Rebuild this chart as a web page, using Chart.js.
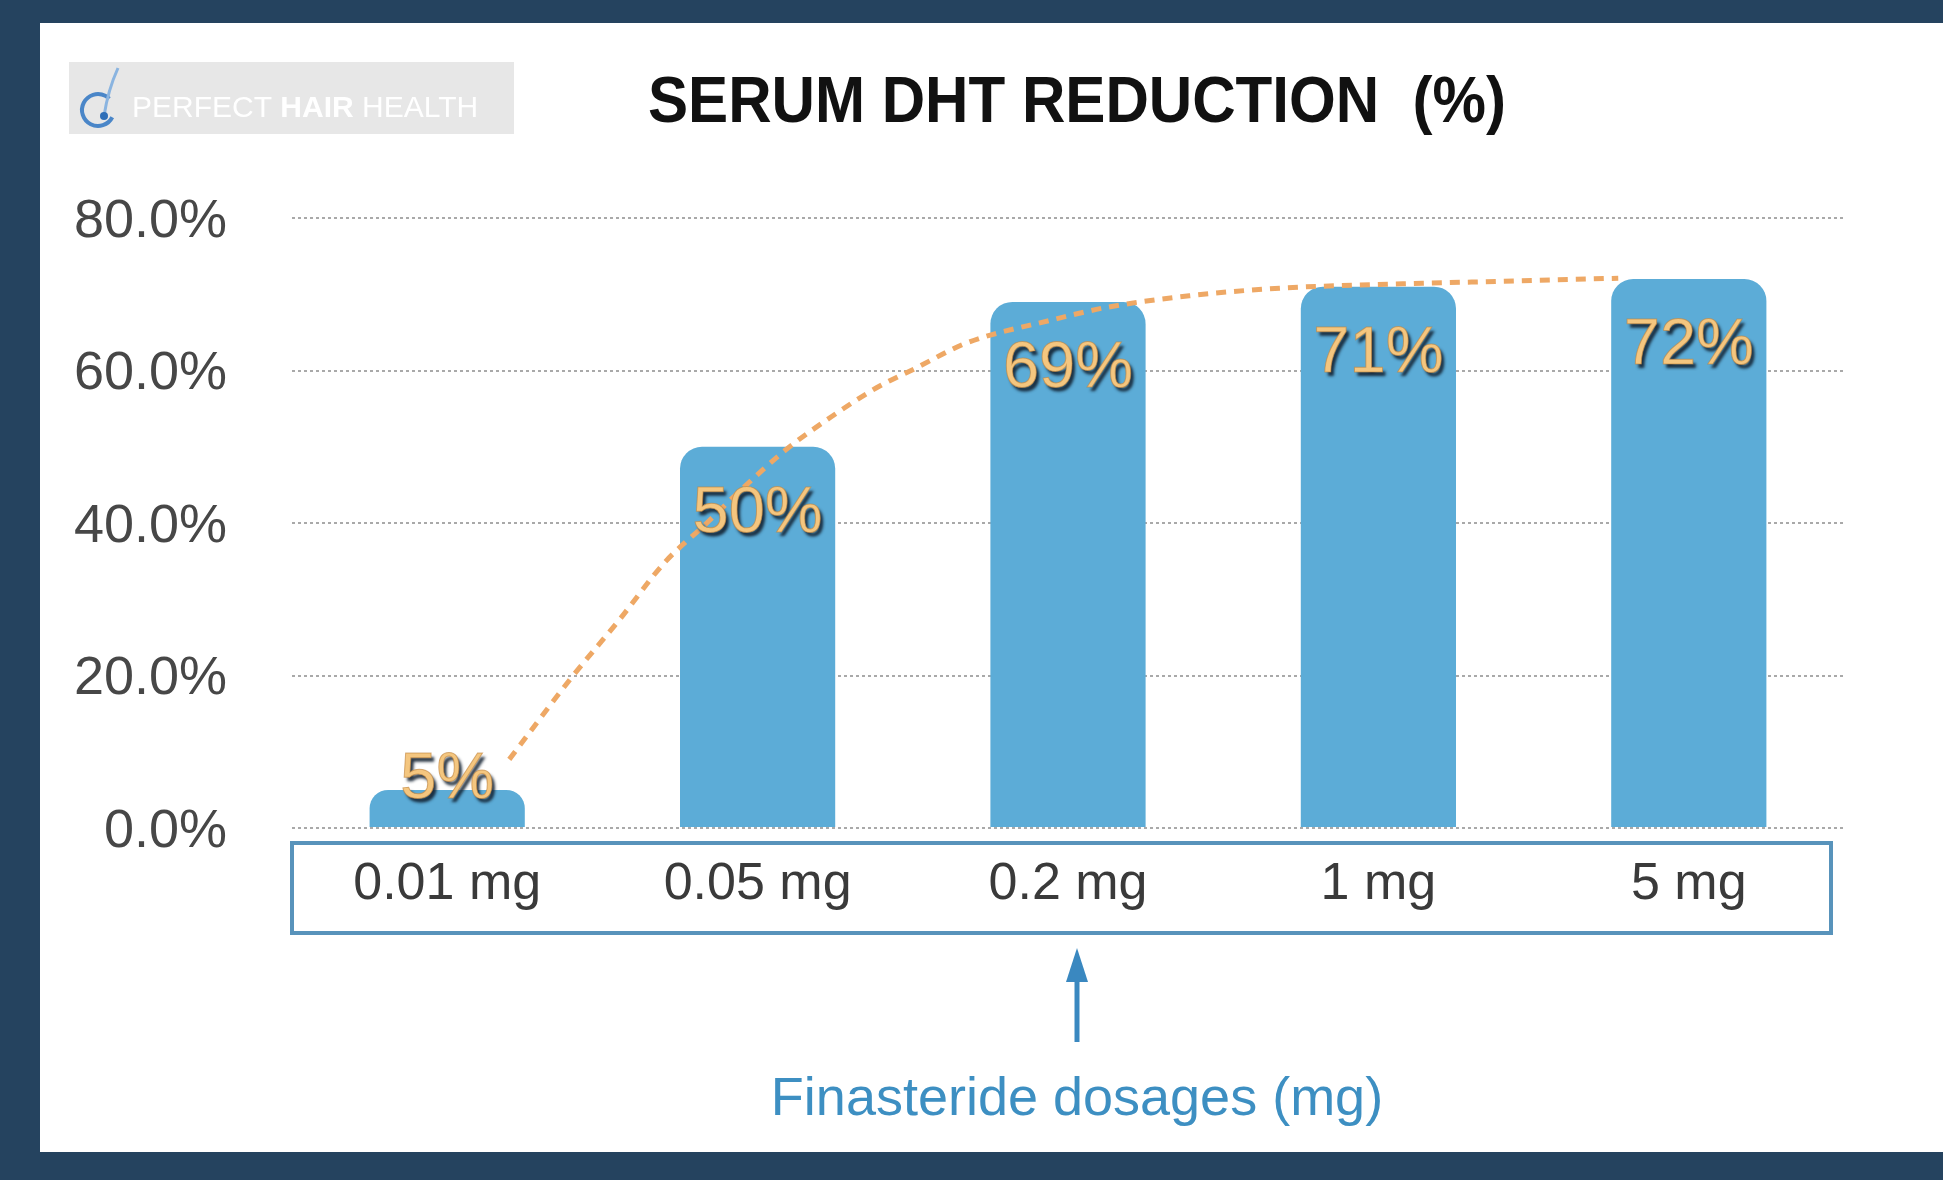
<!DOCTYPE html>
<html>
<head>
<meta charset="utf-8">
<script src="https://cdn.jsdelivr.net/npm/chart.js@4/dist/chart.umd.min.js"></script>
<style>
  html, body { margin: 0; padding: 0; width: 1943px; height: 1180px; overflow: hidden; background: #25435f; }
  #panel { position: absolute; left: 40px; top: 23px; width: 1903px; height: 1129px; background: #ffffff; }
  #wrap { position: absolute; left: 0; top: 0; width: 1943px; height: 1180px; }
</style>
</head>
<body>
<div id="panel"></div>
<div id="wrap"><canvas id="c" width="1943" height="1180"></canvas></div>
<script>
// ---- data ----
const categories = ['0.01 mg', '0.05 mg', '0.2 mg', '1 mg', '5 mg'];
const reductionPct = [5, 50, 69, 71, 72];
const yTickValues = [0, 20, 40, 60, 80];
// dashed trend curve, x in category-index units (0 = first bar centre), y in %
const trendX = [0.02, 0.24, 0.41, 0.57, 0.72, 0.84, 1.00, 1.16, 1.32, 1.46, 1.64, 1.94, 2.14, 2.43, 2.75, 3.03, 3.43, 3.95];
const trendY = [9.0, 19.7, 27.3, 34.8, 40.0, 44.3, 49.6, 53.9, 57.7, 60.3, 63.6, 66.6, 68.3, 69.8, 70.8, 71.2, 71.6, 72.1];
const chartTitle = 'SERUM DHT REDUCTION  (%)';
const xAxisTitle = 'Finasteride dosages (mg)';
const logoParts = ['PERFECT ', 'HAIR', ' HEALTH'];

const FONT = '"Liberation Sans", Arial, Helvetica, sans-serif';

const decorPlugin = {
  id: 'decor',
  beforeDraw(chart) {
    const ctx = chart.ctx;
    ctx.save();
    // logo box
    ctx.fillStyle = '#e7e7e7';
    ctx.fillRect(69, 62, 445, 72);
    // logo icon
    ctx.strokeStyle = '#4a86c8';
    ctx.lineWidth = 4;
    ctx.beginPath();
    ctx.arc(98, 110, 16, Math.PI * 0.15, Math.PI * 1.75, false);
    ctx.stroke();
    ctx.strokeStyle = '#8ab4e0';
    ctx.lineWidth = 3;
    ctx.beginPath();
    ctx.moveTo(104, 116);
    ctx.quadraticCurveTo(108, 90, 118, 68);
    ctx.stroke();
    ctx.fillStyle = '#2f6fb8';
    ctx.beginPath();
    ctx.arc(104, 116, 4, 0, Math.PI * 2);
    ctx.fill();
    // logo text
    ctx.fillStyle = '#ffffff';
    ctx.textBaseline = 'alphabetic';
    ctx.textAlign = 'left';
    let x = 132;
    logoParts.forEach((p, i) => {
      ctx.font = (i === 1 ? 'bold ' : '') + '30px ' + FONT;
      ctx.fillText(p, x, 117);
      x += ctx.measureText(p).width;
    });
    // title
    ctx.fillStyle = '#111111';
    ctx.font = 'bold 64px ' + FONT;
    ctx.textAlign = 'center';
    ctx.textBaseline = 'middle';
    const tw = ctx.measureText(chartTitle).width;
    const sx = 858 / tw;
    ctx.save();
    ctx.translate(1077, 104);
    ctx.scale(sx, 1);
    ctx.fillText(chartTitle, 0, 0);
    ctx.restore();
    // x-axis label box
    ctx.strokeStyle = '#5893bb';
    ctx.lineWidth = 4;
    ctx.strokeRect(292, 843, 1539, 90);
    ctx.restore();
  },
  afterDatasetsDraw(chart) {
    const ctx = chart.ctx;
    const meta = chart.getDatasetMeta(1);
    ctx.save();
    ctx.font = '65px ' + FONT;
    ctx.textAlign = 'center';
    ctx.textBaseline = 'middle';
    meta.data.forEach((bar, i) => {
      const txt = reductionPct[i] + '%';
      const y = Math.min(bar.y + 67, bar.base - 47);
      ctx.shadowColor = 'rgba(18,32,48,0.9)';
      ctx.shadowOffsetX = 3;
      ctx.shadowOffsetY = 4;
      ctx.shadowBlur = 3;
      ctx.fillStyle = '#f4c67f';
      ctx.fillText(txt, bar.x, y);
      ctx.shadowColor = 'rgba(0,0,0,0)';
      ctx.strokeStyle = 'rgba(190,130,60,0.6)';
      ctx.lineWidth = 1;
      ctx.strokeText(txt, bar.x, y);
    });
    ctx.restore();
  },
  afterDraw(chart) {
    const ctx = chart.ctx;
    ctx.save();
    // arrow
    ctx.strokeStyle = '#3a88c0';
    ctx.fillStyle = '#3a88c0';
    ctx.lineWidth = 5;
    ctx.beginPath();
    ctx.moveTo(1077, 1042);
    ctx.lineTo(1077, 975);
    ctx.stroke();
    ctx.beginPath();
    ctx.moveTo(1077, 948);
    ctx.lineTo(1066, 982);
    ctx.lineTo(1088, 982);
    ctx.closePath();
    ctx.fill();
    // axis title
    ctx.font = '54px ' + FONT;
    ctx.textAlign = 'center';
    ctx.textBaseline = 'middle';
    ctx.fillStyle = '#3d8fc2';
    ctx.fillText(xAxisTitle, 1077, 1100);
    ctx.restore();
  }
};

new Chart(document.getElementById('c'), {
  type: 'bar',
  data: {
    labels: categories,
    datasets: [
      {
        type: 'line',
        data: trendX.map((x, i) => ({ x: x, y: trendY[i] })),
        xAxisID: 'xt',
        yAxisID: 'y',
        borderColor: '#eea865',
        borderWidth: 5,
        borderDash: [10, 8],
        pointRadius: 0,
        fill: false,
        tension: 0.4,
        cubicInterpolationMode: 'monotone',
        order: 0
      },
      {
        data: reductionPct,
        xAxisID: 'x',
        yAxisID: 'y',
        backgroundColor: '#5cacd7',
        borderRadius: { topLeft: 22, topRight: 22, bottomLeft: 0, bottomRight: 0 },
        borderSkipped: 'bottom',
        grouped: false,
        barPercentage: 0.5,
        categoryPercentage: 1.0,
        order: 1
      }
    ]
  },
  options: {
    responsive: false,
    animation: false,
    devicePixelRatio: 1,
    layout: { padding: { left: 0, top: 218, right: 99, bottom: 0 } },
    plugins: {
      legend: { display: false },
      tooltip: { enabled: false },
      title: { display: false }
    },
    scales: {
      x: {
        type: 'category',
        offset: true,
        grid: { display: false, drawTicks: false },
        border: { display: false },
        ticks: {
          color: '#3a3a3a',
          font: { family: FONT, size: 52 },
          padding: 25,
          maxRotation: 0,
          autoSkip: false
        },
        afterFit(s) { s.height = 352; }
      },
      xt: {
        type: 'linear',
        display: false,
        min: -0.5,
        max: 4.5
      },
      y: {
        min: 0,
        max: 80,
        afterBuildTicks(s) { s.ticks = yTickValues.map(v => ({ value: v })); },
        grid: { color: '#a9a9a9', lineWidth: 2, drawTicks: false },
        border: { display: false, dash: [3, 3] },
        ticks: {
          color: '#474747',
          font: { family: FONT, size: 54 },
          padding: 65,
          labelOffset: 4,
          callback: v => Number(v).toFixed(1) + '%'
        },
        afterFit(s) { s.width = 292; }
      }
    }
  },
  plugins: [decorPlugin]
});
</script>
</body>
</html>
